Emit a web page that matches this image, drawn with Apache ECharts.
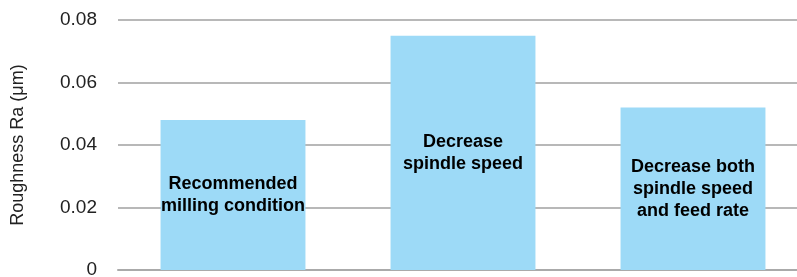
<!DOCTYPE html>
<html>
<head>
<meta charset="utf-8">
<script src="https://cdn.jsdelivr.net/npm/echarts@6/dist/echarts.min.js"></script>
<style>
  html, body { margin: 0; padding: 0; background: #fff; }
  #chart { width: 797px; height: 277px; }
</style>
</head>
<body>
<div id="chart"></div>
<script>
// 条件 / 粗糙度数据
const conditions = [
  'Recommended\nmilling condition',
  'Decrease\nspindle speed',
  'Decrease both\nspindle speed\nand feed rate'
];
const roughness = [0.048, 0.075, 0.052];
const yTicks = { min: 0, max: 0.08, interval: 0.02 };

const chart = echarts.init(document.getElementById('chart'));

const option = {
  animation: false,
  grid: { left: 118, top: 20, bottom: 7, width: 690, outerBoundsMode: 'none' },
  xAxis: {
    type: 'category',
    data: conditions,
    axisLine: { show: true, lineStyle: { color: '#aaaaaa', width: 2 } },
    axisTick: { show: false },
    axisLabel: { show: false }
  },
  yAxis: {
    type: 'value',
    min: yTicks.min,
    max: yTicks.max,
    interval: yTicks.interval,
    name: 'Roughness Ra (μm)',
    nameLocation: 'middle',
    nameGap: 91,
    nameTextStyle: { fontFamily: 'Liberation Sans', fontSize: 18, color: '#222' },
    axisLine: { show: false },
    axisTick: { show: false },
    axisLabel: {
      margin: 21,
      fontFamily: 'Liberation Sans',
      fontSize: 19,
      color: '#222',
      formatter: v => (v === 0 ? '0' : v.toFixed(2))
    },
    splitLine: { lineStyle: { color: '#b8b8b8', width: 2 } }
  },
  series: [
    {
      type: 'bar',
      data: roughness,
      barCategoryGap: '37%',
      itemStyle: { color: '#9ddaf7' },
      label: {
        show: true,
        position: 'inside',
        formatter: p => p.name,
        fontFamily: 'Liberation Sans',
        fontWeight: 'bold',
        fontSize: 18,
        lineHeight: 22,
        color: '#000'
      }
    }
  ]
};

chart.setOption(option);
window.addEventListener('resize', () => chart.resize());
</script>
</body>
</html>
